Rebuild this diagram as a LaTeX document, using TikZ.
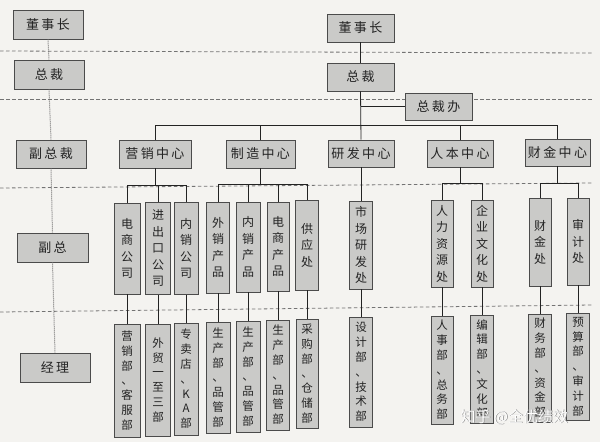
\documentclass[tikz,border=0pt]{standalone}
\usepackage{fontspec}
\newfontfamily\cjk{Noto Sans CJK SC}
\newfontfamily\cjksp[LetterSpace=18]{Noto Sans CJK SC}
\definecolor{paper}{RGB}{244,243,240}
\definecolor{boxfill}{RGB}{202,202,200}
\definecolor{edge}{RGB}{75,75,75}
\definecolor{ink}{RGB}{35,35,35}
\definecolor{guide}{RGB}{115,115,115}
\tikzset{
  hbox/.style={draw=edge, fill=boxfill, line width=0.9pt, inner sep=0pt, text=ink,
    font=\cjksp\fontsize{13}{15}\selectfont},
  vbox/.style={draw=edge, fill=boxfill, line width=0.9pt, inner sep=0pt, align=center, text=ink,
    font=\cjk\fontsize{12}{16.5}\selectfont},
  vboxs/.style={draw=edge, fill=boxfill, line width=0.9pt, inner sep=0pt, align=center, text=ink,
    font=\cjk\fontsize{11.5}{14.8}\selectfont},
  tree/.style={draw=ink, line width=0.8pt},
  guideline/.style={draw=guide, line width=0.8pt, dash pattern=on 3.5pt off 2.5pt},
  rankline/.style={draw=guide, line width=1pt, densely dotted},
  wmtext/.style={font=\cjk\fontsize{15}{17}\selectfont, anchor=west},
}
\begin{document}
\begin{tikzpicture}[x=1pt,y=-1pt]
\fill[paper] (0,0) rectangle (600,442);
\useasboundingbox (0,0) rectangle (600,442);
% rank separators
\draw[guideline] (0,51) -- (592,53);
\draw[guideline] (0,99) -- (592,99);
\draw[guideline] (0,188) -- (592,183);
\draw[guideline] (0,312) -- (592,305);

% left rank column
\node[hbox, minimum width=70pt, minimum height=29pt] (Ldsz) at (48,24.5) {董事长};
\node[hbox, minimum width=70pt, minimum height=29pt] (Lzc) at (49,74.5) {总裁};
\node[hbox, minimum width=70pt, minimum height=28pt] (Lfzc) at (51,154) {副总裁};
\node[hbox, minimum width=71pt, minimum height=29pt] (Lfz) at (52.5,247.5) {副总};
\node[hbox, minimum width=70pt, minimum height=29pt] (Ljl) at (55,367.5) {经理};
\draw[rankline] (Ldsz.south) -- (Lzc.north);
\draw[rankline] (Lzc.south) -- (Lfzc.north);
\draw[rankline] (Lfzc.south) -- (Lfz.north);
\draw[rankline] (Lfz.south) -- (Ljl.north);

% top of chart
\node[hbox, minimum width=67pt, minimum height=28pt] (dsz) at (360.5,28) {董事长};
\node[hbox, minimum width=67pt, minimum height=28pt] (zc) at (360.5,77) {总裁};
\node[hbox, minimum width=67pt, minimum height=27pt] (zcb) at (438.5,106.5) {总裁办};

% centres
\node[hbox, minimum width=72pt, minimum height=28pt] (yx) at (155,154) {营销中心};
\node[hbox, minimum width=69pt, minimum height=28pt] (zz) at (260.5,154) {制造中心};
\node[hbox, minimum width=66pt, minimum height=27pt] (yf) at (361,153.5) {研发中心};
\node[hbox, minimum width=66pt, minimum height=27pt] (rb) at (460,153.5) {人本中心};
\node[hbox, minimum width=65pt, minimum height=27pt] (cj) at (557.5,152.5) {财金中心};

\draw[tree] (dsz.south) -- (zc.north);
\draw[tree] (zc.south) -- (yf.north);
\draw[tree] (zcb.west) -- (zcb.west -| zc.south);
\draw[tree] (yx.north) -- ++(0,-14) -| (cj.north);
\coordinate (bus) at (155,126);
\draw[tree] (zz.north) -- (zz.north |- bus);
\draw[tree] (rb.north) -- (rb.north |- bus);

% second level units
\node[vbox, minimum width=26pt, minimum height=91pt] (a1) at (127,248.5) {电\\商\\公\\司};
\node[vbox, minimum width=25pt, minimum height=92pt] (a2) at (158,248.5) {进\\出\\口\\公\\司};
\node[vbox, minimum width=24pt, minimum height=92pt] (a3) at (186,248.5) {内\\销\\公\\司};
\node[vbox, minimum width=23pt, minimum height=91pt] (b1) at (218,247.5) {外\\销\\产\\品};
\node[vbox, minimum width=24pt, minimum height=90pt] (b2) at (248,247) {内\\销\\产\\品};
\node[vbox, minimum width=22pt, minimum height=89pt] (b3) at (278,246.5) {电\\商\\产\\品};
\node[vbox, minimum width=23pt, minimum height=90pt] (b4) at (307,245) {供\\应\\处};
\node[vbox, minimum width=23pt, minimum height=88pt] (c1) at (361,245) {市\\场\\研\\发\\处};
\node[vbox, minimum width=22pt, minimum height=87pt] (d1) at (442,243.5) {人\\力\\资\\源\\处};
\node[vbox, minimum width=22pt, minimum height=87pt] (d2) at (482,243.5) {企\\业\\文\\化\\处};
\node[vbox, minimum width=22pt, minimum height=88pt] (e1) at (540,242) {财\\金\\处};
\node[vbox, minimum width=22pt, minimum height=87pt] (e2) at (578,241.5) {审\\计\\处};

\draw[tree] (yx.south) -- (yx.south |- 0,186);
\draw[tree] (a1.north) -- ++(0,-17) -| (a3.north);
\draw[tree] (a2.north) -- (a2.north |- 0,186);
\draw[tree] (zz.south) -- (zz.south |- 0,185);
\draw[tree] (b1.north) -- ++(0,-17) -| (b4.north);
\draw[tree] (b2.north) -- (b2.north |- 0,185);
\draw[tree] (b3.north) -- (b3.north |- 0,185);
\draw[tree] (yf.south) -- (c1.north);
\draw[tree] (rb.south) -- (rb.south |- 0,184);
\draw[tree] (d1.north) -- ++(0,-16) -| (d2.north);
\draw[tree] (cj.south) -- (cj.south |- 0,184);
\draw[tree] (e1.north) -- ++(0,-14) -| (e2.north);

% departments
\node[vboxs, minimum width=26pt, minimum height=113pt] (a1d) at (127,380.5) {营\\销\\部\\、\\客\\服\\部};
\node[vboxs, minimum width=25pt, minimum height=112pt] (a2d) at (158,380) {外\\贸\\一\\至\\三\\部};
\node[vboxs, minimum width=24pt, minimum height=112pt] (a3d) at (186,379) {专\\卖\\店\\、\\K\\A\\部};
\node[vboxs, minimum width=24pt, minimum height=111pt] (b1d) at (218,377.5) {生\\产\\部\\、\\品\\管\\部};
\node[vboxs, minimum width=24pt, minimum height=111pt] (b2d) at (248,376.5) {生\\产\\部\\、\\品\\管\\部};
\node[vboxs, minimum width=23pt, minimum height=110pt] (b3d) at (278,375) {生\\产\\部\\、\\品\\管\\部};
\node[vboxs, minimum width=22pt, minimum height=109pt] (b4d) at (307,373.5) {采\\购\\部\\、\\仓\\储\\部};
\node[vboxs, minimum width=23pt, minimum height=110pt] (c1d) at (361,372) {设\\计\\部\\、\\技\\术\\部};
\node[vboxs, minimum width=22pt, minimum height=108pt] (d1d) at (442,370) {人\\事\\部\\、\\总\\务\\部};
\node[vboxs, minimum width=23pt, minimum height=108pt] (d2d) at (482,369) {编\\辑\\部\\、\\文\\化\\部};
\node[vboxs, minimum width=23pt, minimum height=108pt] (e1d) at (540,368) {财\\务\\部\\、\\资\\金\\部};
\node[vboxs, minimum width=23pt, minimum height=107pt] (e2d) at (578,366.5) {预\\算\\部\\、\\审\\计\\部};

\foreach \u in {a1,a2,a3,b1,b2,b3,b4,c1,d1,d2,e1,e2}
  \draw[tree] (\u.south) -- (\u d.north);

% watermark
\node[wmtext, text=black!45] (wm0) at (457.8,417.8) {知乎 @全优绩效};
\node[wmtext, text=white] (wm) at (457,417) {知乎 @全优绩效};
\end{tikzpicture}
\end{document}
